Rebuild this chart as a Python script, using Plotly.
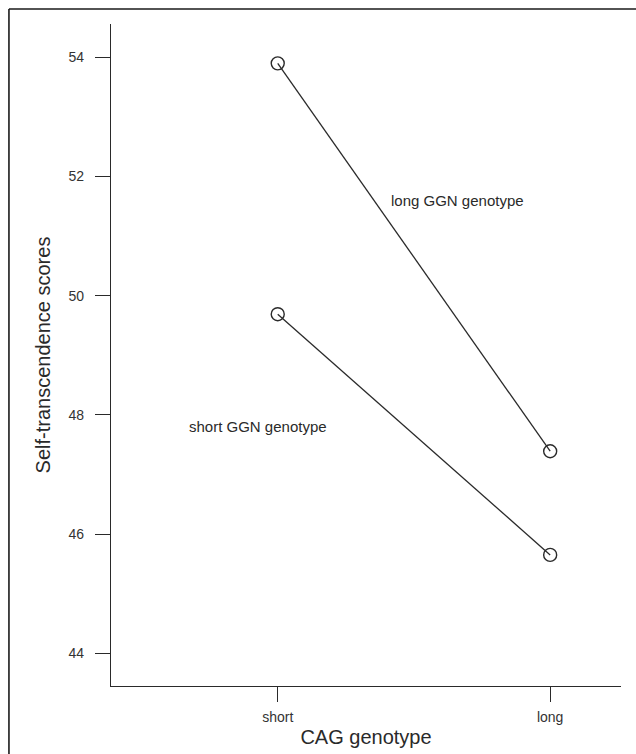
import plotly.graph_objects as go

cag = ["short", "long"]
cag_pos = [1, 2]
long_ggn = [53.90, 47.39]
short_ggn = [49.69, 45.65]
y_ticks = [44, 46, 48, 50, 52, 54]

FONT = "Arial, Liberation Sans, sans-serif"
INK = "#2a2a2a"

fig = go.Figure()
for name, vals in [("long GGN genotype", long_ggn), ("short GGN genotype", short_ggn)]:
    fig.add_trace(go.Scatter(
        x=cag_pos, y=vals, mode="lines+markers", name=name,
        line=dict(color=INK, width=1.3),
        marker=dict(symbol="circle-open", size=13, color=INK, line=dict(width=1.4)),
        showlegend=False,
    ))

fig.add_annotation(x=1.66, y=51.6, text="long GGN genotype", showarrow=False,
                   font=dict(family=FONT, size=15, color=INK))
fig.add_annotation(x=0.928, y=47.8, text="short GGN genotype", showarrow=False,
                   font=dict(family=FONT, size=15, color=INK))

# outer frame: only the left and top edges fall inside the picture
frame = dict(color="#1a1a1a", width=1.6)
fig.add_shape(type="line", xref="paper", yref="paper",
              x0=-0.2001, x1=-0.2001, y0=-0.15, y1=1.0227, line=frame)
fig.add_shape(type="line", xref="paper", yref="paper",
              x0=-0.2001, x1=1.1, y0=1.0227, y1=1.0227, line=frame)

fig.update_layout(
    width=636, height=754,
    margin=dict(l=111, r=15.3, t=24, b=68, autoexpand=False),
    paper_bgcolor="white", plot_bgcolor="white",
    font=dict(family=FONT, color=INK),
    xaxis=dict(
        range=[0.388, 2.26], tickvals=cag_pos, ticktext=cag,
        showline=True, linecolor=INK, linewidth=1.3,
        ticks="outside", ticklen=15, tickcolor=INK, tickwidth=1.1,
        ticklabelstandoff=3,
        showgrid=False, zeroline=False,
        tickfont=dict(size=14, color="#333"),
        title=dict(text="CAG genotype", font=dict(size=20, color=INK), standoff=6),
    ),
    yaxis=dict(
        range=[43.45, 54.56], tickvals=y_ticks,
        showline=True, linecolor=INK, linewidth=1.3,
        ticks="outside", ticklen=15, tickcolor=INK, tickwidth=1.1,
        ticklabelstandoff=8,
        showgrid=False, zeroline=False,
        tickfont=dict(size=14, color="#333"),
        title=dict(text="Self-transcendence scores", font=dict(size=20, color=INK), standoff=12),
    ),
)

fig.write_html("out.html")
